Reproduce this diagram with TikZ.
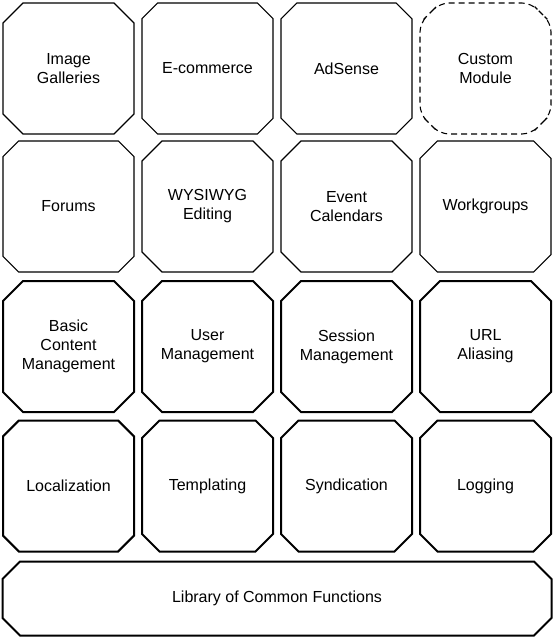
\documentclass[tikz,border=0pt]{standalone}
\usepackage{fontspec}
\setmainfont{Liberation Sans}
\usetikzlibrary{shapes.misc,positioning,calc}

\begin{document}
\begin{tikzpicture}[node distance=139pt,
    box/.style={chamfered rectangle,chamfered rectangle xsep=10pt,chamfered rectangle ysep=10pt,
      draw,minimum width=131pt,minimum height=131pt,inner sep=0pt,align=center,
      font=\fontsize{16}{19}\selectfont},
    mod/.style={box,line width=1.1pt},
    core/.style={box,line width=2pt},
    custom/.style={box,chamfered rectangle corners={},rounded corners=9pt,
      line width=1.1pt,dash pattern=on 6pt off 4pt}]
  \useasboundingbox (0,0) rectangle (555pt,-639pt);
  \node[mod]                        (IG)  at (68.5pt,-68.5pt) {Image\\Galleries};
  \node[mod]                        (EC)  [right of=IG]       {E-commerce};
  \node[mod]                        (AS)  [right of=EC]       {AdSense};
  \node[custom]                     (CM)  [right of=AS]       {Custom\\Module};
  \node[mod,node distance=138pt]    (FO)  [below of=IG]       {Forums};
  \node[mod]                        (WE)  [right of=FO]       {WYSIWYG\\Editing};
  \node[mod]                        (EV)  [right of=WE]       {Event\\Calendars};
  \node[mod]                        (WG)  [right of=EV]       {Workgroups};
  \node[core,node distance=140pt]   (BC)  [below of=FO]       {Basic\\Content\\Management};
  \node[core]                       (UM)  [right of=BC]       {User\\Management};
  \node[core]                       (SM)  [right of=UM]       {Session\\Management};
  \node[core]                       (UA)  [right of=SM]       {URL\\Aliasing};
  \node[core,node distance=139.5pt] (LO)  [below of=BC]       {Localization};
  \node[core]                       (TP)  [right of=LO]       {Templating};
  \node[core]                       (SY)  [right of=TP]       {Syndication};
  \node[core]                       (LG)  [right of=SY]       {Logging};
  \node[core,minimum width=549pt,minimum height=74pt]
                                    (LIB) at ($(LO)!0.5!(LG)+(0,-112.5pt)$) {Library of Common Functions};
\end{tikzpicture}
\end{document}
